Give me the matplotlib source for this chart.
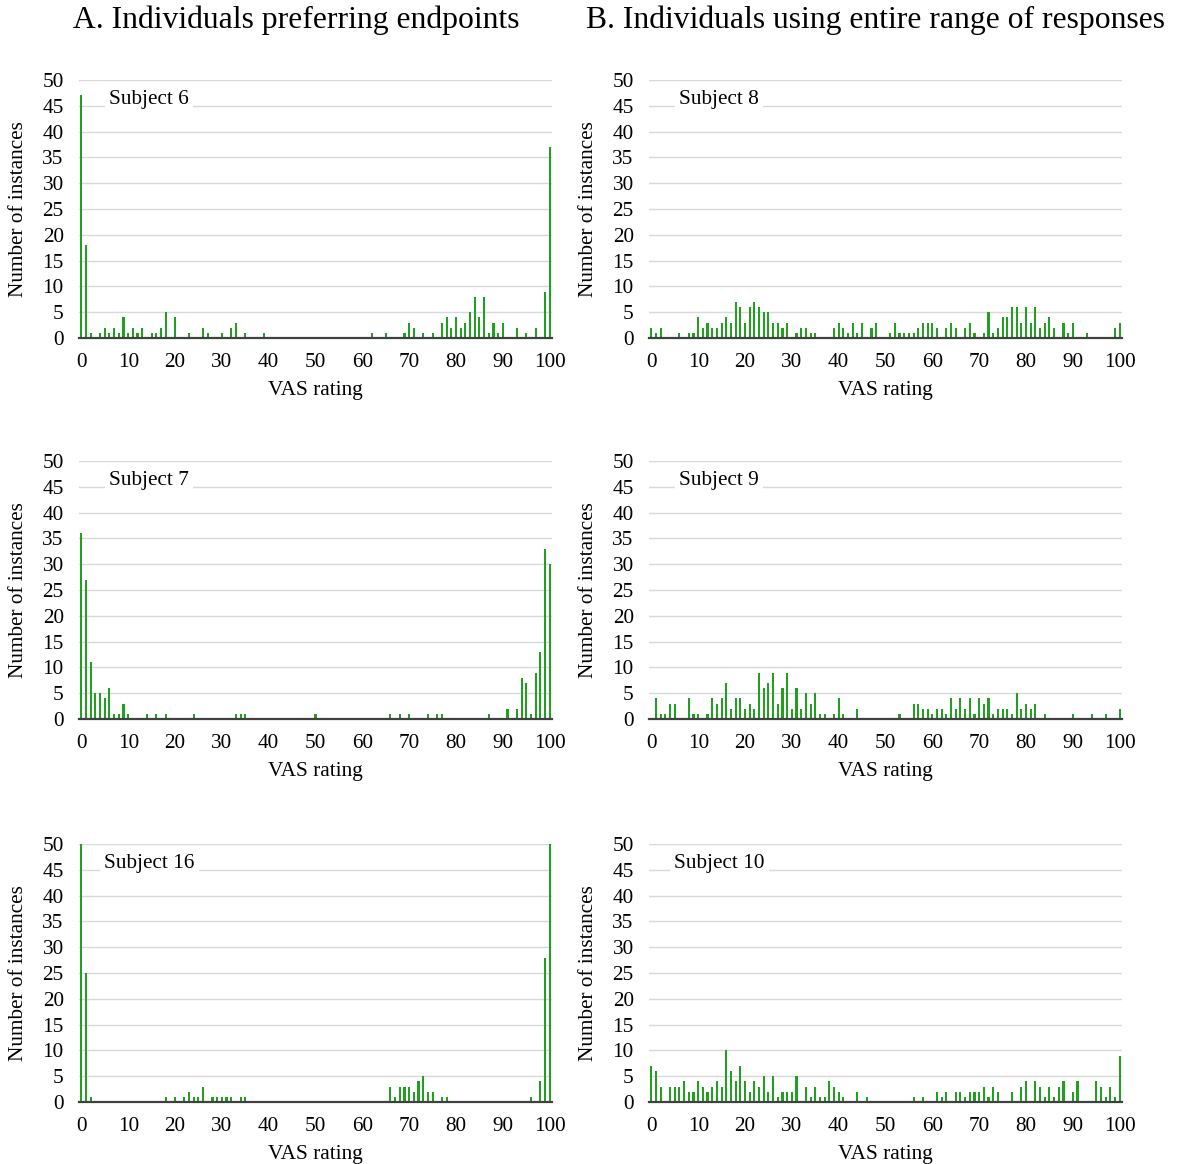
import matplotlib
matplotlib.use("Agg")
import matplotlib.pyplot as plt

plt.rcParams["font.family"] = ["Liberation Serif", "DejaVu Serif"]

# ---------- data: VAS rating -> number of instances ----------
s6_rating = [0, 1, 2, 4, 5, 6, 7, 8, 9, 10, 11, 12, 13, 15, 16, 17, 18, 20, 23, 26,
             27, 30, 32, 33, 35, 39, 62, 65, 69, 70, 71, 73, 75, 77, 78, 79, 80, 81,
             82, 83, 84, 85, 86, 87, 88, 89, 90, 93, 95, 97, 99, 100]
s6_count = [47, 18, 1, 1, 2, 1, 2, 1, 4, 1, 2, 1, 2, 1, 1, 2, 5, 4, 1, 2,
            1, 1, 2, 3, 1, 1, 1, 1, 1, 3, 2, 1, 1, 3, 4, 2, 4, 2,
            3, 5, 8, 4, 8, 1, 3, 1, 3, 2, 1, 2, 9, 37]

s7_rating = [0, 1, 2, 3, 4, 5, 6, 7, 8, 9, 10, 14, 16, 18, 24, 33, 34, 35, 50, 66,
             68, 70, 74, 76, 77, 87, 91, 93, 94, 95, 96, 97, 98, 99, 100]
s7_count = [36, 27, 11, 5, 5, 4, 6, 1, 1, 3, 1, 1, 1, 1, 1, 1, 1, 1, 1, 1,
            1, 1, 1, 1, 1, 1, 2, 2, 8, 7, 1, 9, 13, 33, 30]

s16_rating = [0, 1, 2, 18, 20, 22, 23, 24, 25, 26, 28, 29, 30, 31, 32, 34, 35,
              66, 67, 68, 69, 70, 71, 72, 73, 74, 75, 77, 78, 96, 98, 99, 100]
s16_count = [50, 25, 1, 1, 1, 1, 2, 1, 1, 3, 1, 1, 1, 1, 1, 1, 1,
             3, 1, 3, 3, 3, 2, 4, 5, 2, 2, 1, 1, 1, 4, 28, 50]

s8_rating = [0, 1, 2, 6, 8, 9, 10, 11, 12, 13, 14, 15, 16, 17, 18, 19, 20, 21, 22, 23,
             24, 25, 26, 27, 28, 29, 31, 32, 33, 34, 35, 39, 40, 41, 42, 43, 44, 45, 47, 48,
             51, 52, 53, 54, 55, 56, 57, 58, 59, 60, 61, 63, 64, 65, 67, 68, 69, 71, 72, 73,
             74, 75, 76, 77, 78, 79, 80, 81, 82, 83, 84, 85, 86, 88, 89, 90, 93, 99, 100]
s8_count = [2, 1, 2, 1, 1, 1, 4, 2, 3, 2, 2, 3, 4, 3, 7, 6, 3, 6, 7, 6,
            5, 5, 3, 3, 2, 3, 1, 2, 2, 1, 1, 2, 3, 2, 1, 3, 1, 3, 2, 3,
            1, 3, 1, 1, 1, 1, 2, 3, 3, 3, 2, 2, 3, 2, 2, 3, 1, 1, 5, 1,
            2, 4, 4, 6, 6, 3, 6, 3, 6, 2, 3, 4, 2, 3, 1, 3, 1, 2, 3]

s9_rating = [1, 2, 3, 4, 5, 8, 9, 10, 12, 13, 14, 15, 16, 17, 18, 19, 20, 21, 22, 23,
             24, 25, 26, 27, 28, 29, 30, 31, 32, 33, 34, 35, 36, 37, 39, 40, 41, 44,
             53, 56, 57, 58, 59, 60, 61, 62, 63, 64, 65, 66, 67, 68, 69, 70, 71, 72, 73,
             74, 75, 76, 77, 78, 79, 80, 81, 82, 84, 90, 94, 97, 100]
s9_count = [4, 1, 1, 3, 3, 4, 1, 1, 1, 4, 3, 4, 7, 2, 4, 4, 2, 3, 2, 9,
            6, 7, 9, 3, 6, 9, 2, 6, 2, 5, 3, 5, 1, 1, 1, 4, 1, 2,
            1, 3, 3, 2, 2, 1, 2, 2, 1, 4, 2, 4, 2, 4, 1, 4, 3, 4, 1,
            2, 2, 2, 1, 5, 2, 3, 2, 3, 1, 1, 1, 1, 2]

s10_rating = [0, 1, 2, 4, 5, 6, 7, 8, 9, 10, 11, 12, 13, 14, 15, 16, 17, 18, 19, 20,
              21, 22, 23, 24, 25, 26, 27, 28, 29, 30, 31, 33, 34, 35, 36, 37, 38, 39, 40,
              41, 44, 46, 56, 58, 61, 62, 63, 65, 66, 67, 68, 69, 70, 71, 72, 73, 74, 77,
              79, 80, 82, 83, 84, 85, 86, 87, 88, 90, 91, 95, 96, 97, 98, 99, 100]
s10_count = [7, 6, 3, 3, 3, 3, 4, 2, 2, 4, 3, 2, 3, 4, 3, 10, 6, 4, 7, 4,
             2, 4, 3, 5, 2, 5, 1, 2, 2, 2, 5, 3, 1, 3, 1, 1, 4, 3, 2,
             1, 2, 1, 1, 1, 2, 1, 2, 2, 2, 1, 2, 2, 2, 3, 1, 3, 2, 2,
             3, 4, 4, 3, 1, 3, 1, 3, 4, 2, 4, 4, 3, 1, 3, 1, 9]

panels = [
    ("Subject 6", s6_rating, s6_count),
    ("Subject 8", s8_rating, s8_count),
    ("Subject 7", s7_rating, s7_count),
    ("Subject 9", s9_rating, s9_count),
    ("Subject 16", s16_rating, s16_count),
    ("Subject 10", s10_rating, s10_count),
]

BAR_COLOR = "#1fa01f"
GRID_COLOR = "#d9d9d9"
FS = 15.3

W, H = 1177, 1164
fig = plt.figure(figsize=(W / 100, H / 100), dpi=100)

col_left = [79, 649]
row_top = [80, 461, 844]
ax_w, ax_h = 473, 258

for i, (label, rating, count) in enumerate(panels):
    r, c = divmod(i, 2)
    left = col_left[c] / W
    bottom = 1 - (row_top[r] + ax_h) / H
    ax = fig.add_axes([left, bottom, ax_w / W, ax_h / H])

    ax.bar(rating, count, width=0.45, color=BAR_COLOR, zorder=2)

    ax.set_xlim(-0.5, 100.5)
    ax.set_ylim(0, 50)
    ax.set_xticks(range(0, 101, 10))
    ax.set_yticks(range(0, 51, 5))
    ax.tick_params(axis="both", length=0, labelsize=FS)
    ax.tick_params(axis="x", pad=11)
    ax.tick_params(axis="y", pad=11)
    ax.grid(axis="y", color=GRID_COLOR, linewidth=1, zorder=0)
    ax.set_axisbelow(True)
    for side in ("top", "right", "left"):
        ax.spines[side].set_visible(False)
    ax.spines["bottom"].set_color("#404040")
    ax.spines["bottom"].set_linewidth(1.6)
    ax.spines["bottom"].set_zorder(3)

    ax.set_xlabel("VAS rating", fontsize=FS)
    ax.xaxis.set_label_coords(0.5, -0.165)
    ax.set_ylabel("Number of instances", fontsize=FS)
    ax.yaxis.set_label_coords(-0.107, 0.5)

    ax.text(14.5, 46.2, label, ha="center", va="center", fontsize=FS, zorder=4,
            bbox=dict(facecolor="white", edgecolor="none", pad=3))

fig.text(0.2515, 0.983, "A. Individuals preferring endpoints",
         ha="center", va="center", fontsize=22.8)
fig.text(0.744, 0.983, "B. Individuals using entire range of responses",
         ha="center", va="center", fontsize=22.8)

fig.savefig("out.png", dpi=100)
